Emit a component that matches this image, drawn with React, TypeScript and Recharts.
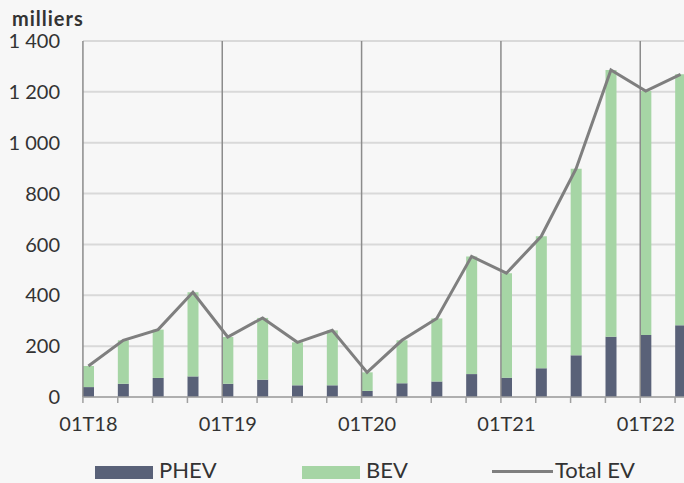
import React from 'react';
import { ComposedChart, Bar, Line, XAxis, YAxis, CartesianGrid, ReferenceLine } from 'recharts';

const quarters = [
  '01T18', '02T18', '03T18', '04T18',
  '01T19', '02T19', '03T19', '04T19',
  '01T20', '02T20', '03T20', '04T20',
  '01T21', '02T21', '03T21', '04T21',
  '01T22', '02T22',
];
const phev = [39, 52, 75, 81, 52, 68, 46, 46, 24, 54, 61, 90, 76, 113, 164, 237, 244, 282];
const bev = [83, 171, 190, 331, 184, 243, 169, 216, 73, 169, 248, 463, 411, 519, 734, 1049, 959, 987];
const totalEv = [122, 223, 265, 412, 236, 311, 215, 262, 97, 223, 309, 553, 487, 632, 898, 1286, 1203, 1269];
const yTicks = [0, 200, 400, 600, 800, 1000, 1200, 1400];

const data = quarters.map((q, i) => ({ q, phev: phev[i], bev: bev[i], total: totalEv[i] }));
const yearStarts = quarters.filter((q) => q.startsWith('01'));

const FONT = 'Lato, sans-serif';
const TEXT = '#333333';
const PHEV_COLOR = '#596178';
const BEV_COLOR = '#a6d5a5';
const LINE_COLOR = '#7f7f7f';
const BAR = 11;

const fmt = (v: number) => (v >= 1000 ? `${Math.floor(v / 1000)} ${String(v % 1000).padStart(3, '0')}` : String(v));

function QuarterTick(props: any) {
  const { x, y, payload } = props;
  const tx = x - BAR / 2;
  return (
    <g>
      <line x1={tx} x2={tx} y1={y - 6} y2={y} stroke="#a0a0a0" strokeWidth={1.5} />
      {payload.value.startsWith('01') && (
        <text x={x} y={y + 28} textAnchor="middle" fill={TEXT} fontSize={20} fontFamily={FONT}>
          {payload.value}
        </text>
      )}
    </g>
  );
}

// year separators sit on the left edge of the Q1 bar, not on its centre
const YearLine = (props: any) => (
  <line
    x1={props.x1 - BAR / 2}
    x2={props.x2 - BAR / 2}
    y1={props.y1}
    y2={props.y2}
    stroke="#8c8c8c"
    strokeWidth={1.5}
  />
);

const legendText = { position: 'absolute' as const, top: 0, lineHeight: '22px', whiteSpace: 'nowrap' as const };

export default function App() {
  return (
    <div
      style={{
        position: 'absolute',
        left: 0,
        top: 0,
        width: 684,
        height: 483,
        overflow: 'hidden',
        background: '#f7f7f7',
        fontFamily: FONT,
      }}
    >
      <div
        style={{
          position: 'absolute',
          left: 12,
          top: 8,
          fontSize: 20,
          lineHeight: '20px',
          letterSpacing: 1,
          fontWeight: 700,
          color: TEXT,
        }}
      >
        milliers
      </div>
      <ComposedChart width={698} height={483} data={data} margin={{ top: 41, right: 0, bottom: 56, left: 0 }}>
        <CartesianGrid vertical={false} stroke="#d9d9d9" strokeWidth={2} />
        <XAxis
          dataKey="q"
          interval={0}
          padding={{ left: -12, right: 0 }}
          tickLine={false}
          tickSize={6}
          tickMargin={0}
          tick={<QuarterTick />}
          axisLine={{ stroke: '#a0a0a0', strokeWidth: 1.5 }}
          height={30}
        />
        <YAxis
          domain={[0, 1400]}
          ticks={yTicks}
          width={83}
          axisLine={false}
          tickLine={false}
          tickSize={0}
          tickMargin={23}
          tickFormatter={fmt}
          tick={{ fill: TEXT, fontSize: 20, fontFamily: FONT }}
        />
        {yearStarts.map((q) => (
          <ReferenceLine key={q} x={q} shape={YearLine} />
        ))}
        <Bar dataKey="phev" name="PHEV" stackId="ev" fill={PHEV_COLOR} barSize={BAR} isAnimationActive={false} />
        <Bar dataKey="bev" name="BEV" stackId="ev" fill={BEV_COLOR} barSize={BAR} isAnimationActive={false} />
        <Line dataKey="total" name="Total EV" stroke={LINE_COLOR} strokeWidth={3} dot={false} isAnimationActive={false} />
      </ComposedChart>
      <div style={{ position: 'absolute', left: 95, top: 459, height: 22, fontSize: 22, color: TEXT }}>
        <div style={{ position: 'absolute', left: 0, top: 7, width: 58, height: 13, background: PHEV_COLOR }} />
        <div style={{ ...legendText, left: 64 }}>PHEV</div>
        <div style={{ position: 'absolute', left: 207, top: 7, width: 58, height: 13, background: BEV_COLOR }} />
        <div style={{ ...legendText, left: 271 }}>BEV</div>
        <div style={{ position: 'absolute', left: 397, top: 11, width: 61, height: 3, background: LINE_COLOR }} />
        <div style={{ ...legendText, left: 460 }}>Total EV</div>
      </div>
    </div>
  );
}
